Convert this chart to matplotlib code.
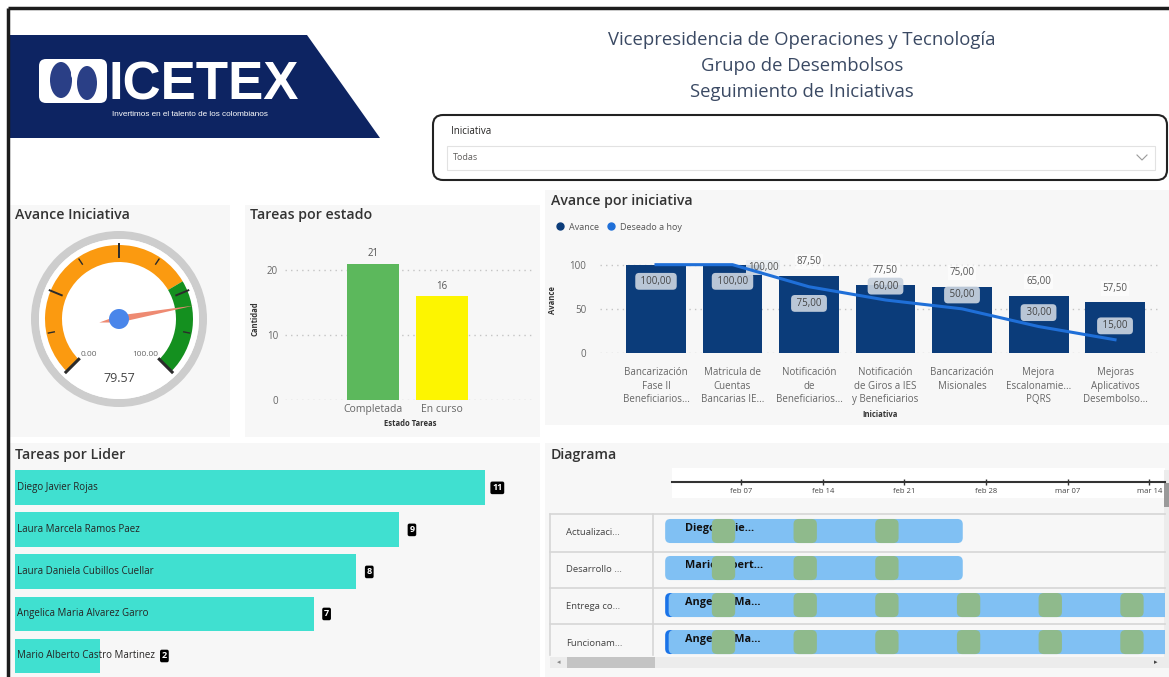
import datetime as dt
import numpy as np
import matplotlib
matplotlib.use("Agg")
import matplotlib.pyplot as plt
import matplotlib.dates as mdates
from matplotlib import font_manager
from matplotlib.lines import Line2D
from matplotlib.patches import Polygon, FancyBboxPatch, Wedge, Circle, Rectangle, Ellipse

plt.rcParams['font.family'] = ['Open Sans', 'DejaVu Sans']

W, H = 1169, 677

# encabezado
titulos = ["Vicepresidencia de Operaciones y Tecnología",
           "Grupo de Desembolsos",
           "Seguimiento de Iniciativas"]
filtro_nombre = "Iniciativa"
filtro_valor = "Todas"

# gauge de avance
avance_min, avance_max = 0.0, 100.0
avance_total = 79.57
avance_meta = 72.0

# tareas por estado
estados = ["Completada", "En curso"]
tareas_estado = [21, 16]
colores_estado = ["#5cb85c", "#fdf500"]

# avance por iniciativa
iniciativas = ["Bancarización\nFase II\nBeneficiarios...",
               "Matricula de\nCuentas\nBancarias IE...",
               "Notificación\nde\nBeneficiarios...",
               "Notificación\nde Giros a IES\ny Beneficiarios",
               "Bancarización\nMisionales",
               "Mejora\nEscalonamie...\nPQRS",
               "Mejoras\nAplicativos\nDesembolso..."]
avance = [100.0, 100.0, 87.5, 77.5, 75.0, 65.0, 57.5]
deseado = [100.0, 100.0, 75.0, 60.0, 50.0, 30.0, 15.0]

# tareas por lider
lideres = ["Diego Javier Rojas", "Laura Marcela Ramos Paez",
           "Laura Daniela Cubillos Cuellar", "Angelica Maria Alvarez Garro",
           "Mario Alberto Castro Martinez"]
tareas_lider = [11, 9, 8, 7, 2]

# diagrama de gantt
actividades = ["Actualizaci...", "Desarrollo ...", "Entrega co...", "Funcionam..."]
responsables = ["Diego Javie...", "Mario Albert...", "Angelica Ma...", "Angelica Ma..."]
inicio = ["2022-01-31 12:00", "2022-01-31 12:00", "2022-01-31 12:00", "2022-01-31 12:00"]
fin = ["2022-02-26", "2022-02-26", "2022-04-30", "2022-04-30"]
progreso_dias = [0.0, 0.0, 0.3, 0.3]
sabados = ["2022-02-05", "2022-02-12", "2022-02-19", "2022-02-26", "2022-03-05", "2022-03-12"]
fechas_eje = ["2022-02-07", "2022-02-14", "2022-02-21", "2022-02-28", "2022-03-07", "2022-03-14"]
etiquetas_eje = ["feb 07", "feb 14", "feb 21", "feb 28", "mar 07", "mar 14"]


def caja(x0, y0, x1, y1):
    # pixeles (origen arriba a la izquierda) -> fraccion de figura
    return [x0 / W, 1 - y1 / H, (x1 - x0) / W, (y1 - y0) / H]


def num(s):
    return mdates.date2num(dt.datetime.fromisoformat(s))


def coma(v):
    return f"{v:.2f}".replace(".", ",")


fig = plt.figure(figsize=(W / 100, H / 100), dpi=100)
fig.patch.set_facecolor("white")

bg = fig.add_axes([0, 0, 1, 1])
bg.set_xlim(0, W)
bg.set_ylim(H, 0)
bg.axis("off")
bg.set_zorder(0)

# marco de la pagina
bg.plot([8, W], [8, 8], color="#1c1c1c", lw=2.5, solid_capstyle="butt")
bg.plot([8, 8], [8, H], color="#1c1c1c", lw=2.5, solid_capstyle="butt")

# logo
bg.add_patch(Polygon([(10, 35), (307, 35), (380, 138), (10, 138)], closed=True,
                     fc="#0d2462", ec="none"))
bg.add_patch(FancyBboxPatch((39, 59), 68, 44, boxstyle="round,pad=0,rounding_size=7",
                            fc="white", ec="none"))
bg.add_patch(Ellipse((61, 80), 22, 36, fc="#2a3f86", ec="none"))
bg.add_patch(Ellipse((87, 83), 20, 34, fc="#2a3f86", ec="none"))
bg.add_patch(Ellipse((74, 74), 6, 10, fc="white", ec="none"))
try:
    font_manager.findfont("Liberation Sans Narrow", fallback_to_default=False)
    logo_font, logo_size, sub_size = "Liberation Sans Narrow", 46, 6.6
except ValueError:
    logo_font, logo_size, sub_size = "Liberation Sans", 38, 5.9
bg.text(108, 99, "ICETEX", fontsize=logo_size, color="white", weight="bold",
        family=logo_font, ha="left", va="baseline")
bg.text(112, 115, "Invertimos en el talento de los colombianos", fontsize=sub_size,
        color="white", family=logo_font, ha="left", va="center")

# titulos
for y, t in zip([40, 66, 92], titulos):
    bg.text(802, y, t, fontsize=13.3, color="#3a4963", ha="center", va="center")

# filtro
bg.add_patch(FancyBboxPatch((433, 115), 734, 65, boxstyle="round,pad=0,rounding_size=10",
                            fc="white", ec="#222222", lw=1.5))
bg.add_patch(Rectangle((447, 146), 708, 24, fc="white", ec="#e2e2e2", lw=0.8))
bg.text(451, 131, filtro_nombre, fontsize=7, color="#252423", va="center")
bg.text(453, 158, filtro_valor, fontsize=6.5, color="#605e5c", va="center")
bg.plot([1137, 1142, 1147], [155, 160, 155], color="#9a9a9a", lw=0.8)

# fondos de los paneles
for x0, y0, x1, y1 in [(10, 205, 230, 437), (245, 205, 540, 437), (545, 190, 1169, 425),
                       (10, 443, 540, 677), (545, 443, 1169, 677)]:
    bg.add_patch(Rectangle((x0, y0), x1 - x0, y1 - y0, fc="#f7f7f7", ec="none"))

for x, y, t in [(15, 215, "Avance Iniciativa"), (250, 215, "Tareas por estado"),
                (551, 201, "Avance por iniciativa"), (15, 455, "Tareas por Lider"),
                (551, 455, "Diagrama")]:
    bg.text(x, y, t, fontsize=10.2, weight="semibold", color="#333333", va="center")

# ---------------- gauge ----------------
ag = fig.add_axes(caja(19, 219, 219, 419))
ag.set_xlim(-100, 100)
ag.set_ylim(-100, 100)
ag.axis("off")


def angulo(v):
    return 225 - 270 * (v - avance_min) / (avance_max - avance_min)


ag.add_patch(Wedge((0, 0), 88, 0, 360, width=8, fc="#cdcdcd", ec="none"))
ag.add_patch(Circle((0, 0), 80, fc="white", ec="none"))
ag.add_patch(Wedge((0, 0), 74, angulo(avance_meta), 225, width=17, fc="#fb9a10", ec="none"))
ag.add_patch(Wedge((0, 0), 74, -45, angulo(avance_meta), width=17, fc="#14901f", ec="none"))
for k in range(9):
    a = np.radians(225 - 270 * k / 8)
    if k in (0, 8):
        r0, r1, lw = 57, 75, 2.2
    elif k % 2 == 0:
        r0, r1, lw = 62, 75, 1.4
    else:
        r0, r1, lw = 66, 72, 1.0
    ag.plot([r0 * np.cos(a), r1 * np.cos(a)], [r0 * np.sin(a), r1 * np.sin(a)],
            color="#2b2b2b", lw=lw)
th = np.radians(angulo(avance_total))
d = np.array([np.cos(th), np.sin(th)])
p = np.array([-np.sin(th), np.cos(th)])
ag.add_patch(Polygon([76 * d, 3.5 * p, -20 * d, -3.5 * p], closed=True, fc="#ee8a72", ec="none"))
ag.add_patch(Circle((0, 0), 10, fc="#4a86ea", ec="none"))
ag.text(-30, -36, f"{avance_min:.2f}", fontsize=6, color="#666666", ha="center", va="center")
ag.text(26, -36, f"{avance_max:.2f}", fontsize=6, color="#666666", ha="center", va="center")
ag.text(0, -60, f"{avance_total:.2f}", fontsize=9, color="#444444", ha="center", va="center")

# ---------------- tareas por estado ----------------
ae = fig.add_axes(caja(285, 237.5, 535, 400))
ae.patch.set_alpha(0)
ae.bar(range(len(estados)), tareas_estado, width=0.754, color=colores_estado, zorder=2)
for i, v in enumerate(tareas_estado):
    ae.annotate(str(v), (i, v), xytext=(0, 3), textcoords="offset points",
                ha="center", va="bottom", fontsize=7, color="#555555")
ae.set_xlim(-1.275, 2.348)
ae.set_ylim(0, 25)
ae.set_yticks([0, 10, 20])
ae.set_xticks(range(len(estados)))
ae.set_xticklabels(estados)
ae.tick_params(length=0, labelsize=7, labelcolor="#666666")
ae.tick_params(axis="y", pad=5)
ae.tick_params(axis="x", labelsize=7.5, pad=3)
ae.yaxis.grid(True, linestyle=(0, (1, 3)), color="#c4c4c4", lw=1)
for s in ae.spines.values():
    s.set_visible(False)
ae.set_xlabel("Estado Tareas", fontsize=5.5, weight="bold", color="#333333", labelpad=3)
ae.set_ylabel("Cantidad", fontsize=5.5, weight="bold", color="#333333", labelpad=5)

# ---------------- avance por iniciativa ----------------
aa = fig.add_axes(caja(600, 247, 1160, 353))
aa.patch.set_alpha(0)
xs = np.arange(len(iniciativas))
aa.bar(xs, avance, width=0.784, color="#0b3c7a", zorder=2)
aa.plot(xs, deseado, color="#1f6fd8", lw=2.2, zorder=3)
for i, v in enumerate(avance):
    if i == 0:
        continue
    if i == 1:
        # la etiqueta de la segunda barra queda corrida a la derecha, sobre la linea
        aa.annotate(coma(v), (i + 0.4, v), xytext=(0, -2), textcoords="offset points",
                    ha="center", va="center", fontsize=7, color="#555555", zorder=2.5,
                    bbox=dict(boxstyle="square,pad=0.2", fc="#e9edf2", ec="none", alpha=0.85))
        continue
    aa.annotate(coma(v), (i, v), xytext=(0, 6), textcoords="offset points",
                ha="center", va="bottom", fontsize=7, color="#555555", zorder=5,
                bbox=dict(boxstyle="square,pad=0.2", fc="white", ec="none", alpha=0.6))
for i, v in enumerate(deseado):
    off = -12 if v > 70 else 10
    aa.annotate(" " + coma(v) + " ", (i, v), xytext=(0, off), textcoords="offset points",
                ha="center", va="center", fontsize=7, color="#444444", zorder=6,
                bbox=dict(boxstyle="round,pad=0.3,rounding_size=0.4", fc="#c9d3df",
                          ec="none", alpha=0.92))
aa.set_xlim(-0.732, 6.588)
aa.set_ylim(0, 120)
aa.set_yticks([0, 50, 100])
aa.set_xticks(xs)
aa.set_xticklabels(iniciativas, linespacing=1.35)
aa.tick_params(length=0, labelsize=7, labelcolor="#666666")
aa.tick_params(axis="y", pad=10)
aa.tick_params(axis="x", pad=10)
aa.yaxis.grid(True, linestyle=(0, (1, 3)), color="#c4c4c4", lw=1)
for s in aa.spines.values():
    s.set_visible(False)
aa.set_xlabel("Iniciativa", fontsize=5.5, weight="bold", color="#333333", labelpad=3)
aa.set_ylabel("Avance", fontsize=5.5, weight="bold", color="#333333", labelpad=9)
handles = [Line2D([], [], marker="o", ls="", color="#0b3c7a", ms=5),
           Line2D([], [], marker="o", ls="", color="#1f6fd8", ms=5)]
fig.legend(handles, ["Avance", "Deseado a hoy"], loc="center left",
           bbox_to_anchor=(546 / W, 1 - 227 / H), ncol=2, frameon=False, fontsize=6.5,
           handletextpad=0.0, columnspacing=0.4, labelcolor="#555555", borderpad=0)

# ---------------- tareas por lider ----------------
al = fig.add_axes(caja(15, 466, 540, 677))
al.patch.set_alpha(0)
al.barh(range(len(lideres)), tareas_lider, height=0.83, color="#40e0d0")
for i, (n, v) in enumerate(zip(lideres, tareas_lider)):
    al.text(0.05, i, n, va="center", ha="left", fontsize=7, color="#252423")
    al.text(max(v + 0.3, 3.5), i, str(v), va="center", ha="center", fontsize=6.5,
            color="white", weight="bold",
            bbox=dict(boxstyle="round,pad=0.2,rounding_size=0.2", fc="black", ec="none"))
al.set_xlim(0, 12.3)
al.set_ylim(4.5, -0.52)
al.axis("off")

# ---------------- diagrama ----------------
base = num("2022-02-01")
px_dia = 11.67
x_cero = 671

# cabecera de fechas
bg.add_patch(Rectangle((672, 468), 493, 30, fc="white", ec="none"))
ah = fig.add_axes(caja(672, 468, 1165, 482))
ah.patch.set_alpha(0)
ah.set_xlim(base + (672 - x_cero) / px_dia, base + (1165 - x_cero) / px_dia)
ah.set_yticks([])
for k in ("top", "left", "right"):
    ah.spines[k].set_visible(False)
ah.spines["bottom"].set_linewidth(1.5)
ah.spines["bottom"].set_color("#333333")
ah.set_xticks([num(f) for f in fechas_eje])
ah.set_xticklabels(etiquetas_eje)
ah.tick_params(axis="x", direction="inout", length=5, width=1, labelsize=5.5,
               pad=2, color="#333333", labelcolor="#444444")

# tabla
for y in [514, 552, 588, 624]:
    bg.plot([550, 1165], [y, y], color="#d6d6d6", lw=1.2)
bg.plot([550, 550], [514, 655], color="#d6d6d6", lw=1.2)
bg.plot([653, 653], [514, 655], color="#d6d6d6", lw=1.2)

at = fig.add_axes(caja(655, 512.5, 1165, 655))
at.patch.set_alpha(0)
at.set_xlim(base + (655 - x_cero) / px_dia, base + (1165 - x_cero) / px_dia)
at.set_ylim(3.35, -0.5)
asp = px_dia / 37.0
alto = 0.65
for i in range(len(actividades)):
    x0, x1 = num(inicio[i]), num(fin[i])
    if progreso_dias[i] > 0:
        at.add_patch(FancyBboxPatch((x0, i - alto / 2), progreso_dias[i] + 0.6, alto,
                                    boxstyle="round,pad=0,rounding_size=0.45",
                                    mutation_aspect=asp, fc="#1a73e8", ec="none", zorder=2))
    at.add_patch(FancyBboxPatch((x0 + progreso_dias[i], i - alto / 2),
                                x1 - x0 - progreso_dias[i], alto,
                                boxstyle="round,pad=0,rounding_size=0.45",
                                mutation_aspect=asp, fc="#80c0f3", ec="none", zorder=2))
    at.annotate(responsables[i], (x0, i), xytext=(14.5, 2), textcoords="offset points",
                va="center", ha="left", fontsize=7.8, weight="bold", color="#111111",
                zorder=3, annotation_clip=False)
    for s in sabados:
        s0 = num(s) - 0.5
        if s0 >= x0 and s0 + 2 <= x1:
            at.add_patch(FancyBboxPatch((s0, i - alto / 2), 2, alto,
                                        boxstyle="round,pad=0,rounding_size=0.45",
                                        mutation_aspect=asp, fc="#8fba8c", ec="none",
                                        zorder=4))
at.set_yticks(range(len(actividades)))
at.set_yticklabels(actividades, ha="left")
at.tick_params(axis="y", length=0, pad=64, labelsize=6.8, labelcolor="#444444")
at.set_xticks([])
for s in at.spines.values():
    s.set_visible(False)

# barras de desplazamiento
bg.add_patch(Rectangle((550, 657), 615, 11, fc="#ececec", ec="none"))
bg.add_patch(Rectangle((567, 657), 88, 11, fc="#c4c4c4", ec="none"))
bg.text(559, 662.5, "◂", fontsize=5, color="#888888", ha="center", va="center", family="DejaVu Sans")
bg.text(1156, 662.5, "▸", fontsize=5, color="#444444", ha="center", va="center", family="DejaVu Sans")
bg.add_patch(Rectangle((1164, 470), 5, 198, fc="#ececec", ec="none"))
bg.add_patch(Rectangle((1164, 483), 5, 24, fc="#9a9a9a", ec="none"))

fig.savefig("out.png", dpi=100)
